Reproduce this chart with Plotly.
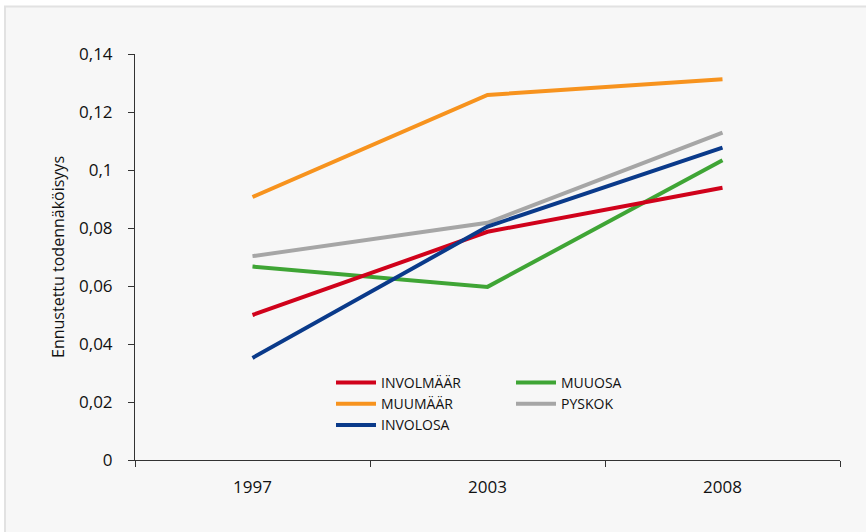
import plotly.graph_objects as go

# Survey years on the category axis
years = ["1997", "2003", "2008"]

# Predicted probabilities per group
involmaar = [0.0500, 0.0787, 0.0939]
muumaar = [0.0907, 0.1259, 0.1313]
involosa = [0.0352, 0.0805, 0.1077]
muuosa = [0.0667, 0.0597, 0.1034]
pyskok = [0.0703, 0.0818, 0.1129]

y_ticks = [0, 0.02, 0.04, 0.06, 0.08, 0.10, 0.12, 0.14]
y_ticktext = ["0", "0,02", "0,04", "0,06", "0,08", "0,1", "0,12", "0,14"]

FONT = "Open Sans"

fig = go.Figure()

series = [
    ("PYSKOK", pyskok, "#a6a6a6", "legend2"),
    ("MUUOSA", muuosa, "#3fa535", "legend2"),
    ("MUUMÄÄR", muumaar, "#f7931e", "legend"),
    ("INVOLMÄÄR", involmaar, "#d0021b", "legend"),
    ("INVOLOSA", involosa, "#0a3a8a", "legend"),
]
for name, vals, color, lg in series:
    fig.add_trace(go.Scatter(
        x=years, y=vals, name=name, mode="lines",
        line=dict(color=color, width=4),
        legend=lg,
    ))

# Legend order inside each column
order = {"INVOLMÄÄR": 1, "MUUMÄÄR": 2, "INVOLOSA": 3, "MUUOSA": 1, "PYSKOK": 2}
for tr in fig.data:
    tr.legendrank = order[tr.name]

W, H = 866, 532
ml, mr, mt, mb = 135, 26, 54, 72
pw, ph = W - ml - mr, H - mt - mb

def px_x(p):
    return (p - ml) / pw

def px_y(p):
    return (H - mb - p) / ph

legend_common = dict(
    bgcolor="rgba(0,0,0,0)",
    font=dict(family=FONT, size=14, color="#111111"),
    orientation="v",
    xanchor="left", yanchor="top",
    tracegroupgap=0,
    itemwidth=40,
)

fig.update_layout(
    width=W, height=H,
    margin=dict(l=ml, r=mr, t=mt, b=mb),
    paper_bgcolor="white",
    plot_bgcolor="rgba(0,0,0,0)",
    font=dict(family=FONT, size=15, color="#111111"),
    showlegend=True,
    legend=dict(x=px_x(331), y=px_y(367), traceorder="normal", **legend_common),
    legend2=dict(x=px_x(511), y=px_y(367), traceorder="normal", **legend_common),
    xaxis=dict(
        type="category",
        range=[-0.5, 2.5],
        tickson="boundaries",
        ticks="outside", ticklen=6, tickcolor="#333333",
        showline=True, linecolor="#333333", linewidth=1,
        showgrid=False, zeroline=False,
        ticklabelstandoff=12,
        tickfont=dict(family=FONT, size=17, color="#111111"),
    ),
    yaxis=dict(
        range=[0, 0.14],
        tickvals=y_ticks, ticktext=y_ticktext,
        ticks="outside", ticklen=6, tickcolor="#333333",
        showline=True, linecolor="#333333", linewidth=1,
        showgrid=False, zeroline=False,
        ticklabelstandoff=12,
        tickfont=dict(family=FONT, size=17, color="#111111"),
        title=dict(text="Ennustettu todennäköisyys",
                   font=dict(family=FONT, size=16, color="#111111"),
                   standoff=10),
    ),
    shapes=[dict(
        type="rect", xref="paper", yref="paper", layer="below",
        x0=px_x(5), x1=px_x(W + 20), y0=px_y(H + 20), y1=px_y(6.5),
        fillcolor="#f7f7f7", line=dict(color="#e2e2e2", width=2),
    )],
)

fig.write_html("out.html")
